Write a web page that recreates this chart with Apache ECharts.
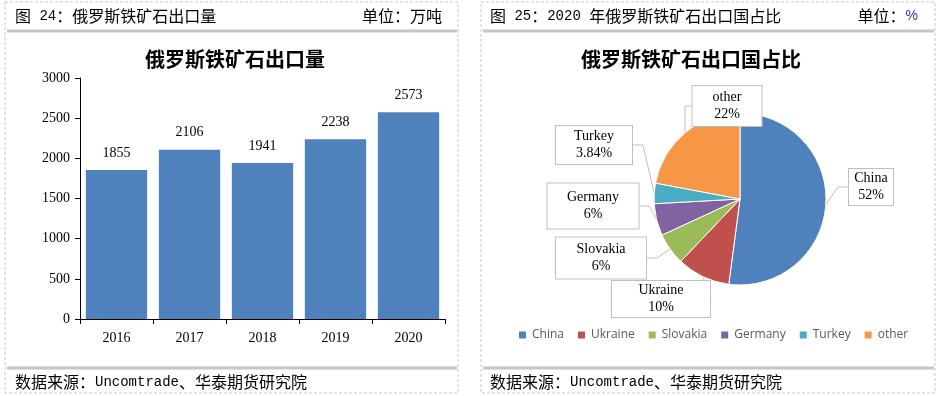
<!DOCTYPE html>
<html>
<head>
<meta charset="utf-8">
<script src="https://cdn.jsdelivr.net/npm/echarts@6/dist/echarts.min.js"></script>
<style>html,body{margin:0;padding:0;background:#fff}#c{width:938px;height:396px}</style>
</head>
<body>
<div id="c"></div>
<script>
// ---- data ----
const years = ['2016', '2017', '2018', '2019', '2020'];
const exportVolume = [1855, 2106, 1941, 2238, 2573];
const yTicks = [0, 500, 1000, 1500, 2000, 2500, 3000];
const countries = ['China', 'Ukraine', 'Slovakia', 'Germany', 'Turkey', 'other'];
const shares = [52, 10, 6, 6, 3.84, 22];

// ---- styles / layout (not data) ----
const pieColors = ['#4f81bd', '#c0504d', '#9bbb59', '#8064a2', '#4bacc6', '#f79646'];
const labelBoxes = [
  {x: 871, y: 187, w: 46, h: 38},
  {x: 661, y: 299, w: 100, h: 38},
  {x: 601, y: 258, w: 92, h: 43},
  {x: 593, y: 206, w: 93, h: 47},
  {x: 594, y: 145, w: 78, h: 40},
  {x: 727, y: 106, w: 71, h: 42}
];
const serif = "'Liberation Serif','Times New Roman',serif";
const cjk = "'Noto Sans CJK SC',sans-serif";
const mono = "'Liberation Mono','Noto Sans CJK SC',monospace";

function frame(x, y, w, h) {
  return {type: 'rect', shape: {x: x, y: y, width: w, height: h}, silent: true,
    style: {fill: 'none', stroke: '#c8c8c8', lineWidth: 1, lineDash: [3, 2]}};
}
function hline(x1, x2, y) {
  return {type: 'line', shape: {x1: x1, y1: y, x2: x2, y2: y}, silent: true,
    style: {stroke: '#c6c6c6', lineWidth: 3}};
}
function richText(x, y, parts, align) {
  return {type: 'text', x: x, y: y, silent: true,
    style: {text: parts, align: align || 'left', verticalAlign: 'middle',
      rich: {c: {fontFamily: cjk, fontSize: 16, fill: '#000'},
             m: {fontFamily: mono, fontSize: 14, fill: '#000'},
             p: {fontFamily: "'Liberation Sans',sans-serif", fontSize: 14, fill: '#1f3ea8'}}}};
}

const chart = echarts.init(document.getElementById('c'), null, {renderer: 'canvas'});
chart.setOption({
  animation: false,
  backgroundColor: '#fff',
  graphic: [
    frame(5, 2, 453, 391),
    frame(481, 2, 454, 391),
    hline(7, 457, 31),
    hline(483, 934, 31),
    hline(7, 457, 368),
    hline(483, 934, 368),
    richText(15, 16, '{c|图}{m| 24}{c|：俄罗斯铁矿石出口量}'),
    richText(442, 16, '{c|单位：万吨}', 'right'),
    richText(490, 16, '{c|图}{m| 25}{c|：}{m|2020 }{c|年俄罗斯铁矿石出口国占比}'),
    richText(918, 16, '{c|单位：}{p|%}', 'right'),
    richText(15, 382, '{c|数据来源：}{m|Uncomtrade}{c|、华泰期货研究院}'),
    richText(490, 382, '{c|数据来源：}{m|Uncomtrade}{c|、华泰期货研究院}')
  ],
  title: [
    {text: '俄罗斯铁矿石出口量', left: 230, top: 44, textAlign: 'center',
     textStyle: {fontFamily: cjk, fontSize: 20, fontWeight: 'bold', color: '#000'}},
    {text: '俄罗斯铁矿石出口国占比', left: 686, top: 44, textAlign: 'center',
     textStyle: {fontFamily: cjk, fontSize: 20, fontWeight: 'bold', color: '#000'}}
  ],
  legend: {
    data: countries, left: 512, top: 324, itemWidth: 9, itemHeight: 9, itemGap: 12,
    icon: 'rect', textStyle: {fontFamily: "'Open Sans','Noto Sans',sans-serif", fontSize: 12, color: '#595959'}
  },
  grid: {left: 80, top: 78, width: 365, height: 241, containLabel: false},
  xAxis: {
    type: 'category', data: years,
    axisLine: {lineStyle: {color: '#000'}},
    axisTick: {show: true, length: 5, lineStyle: {color: '#000'}},
    axisLabel: {fontFamily: serif, fontSize: 14, color: '#000', margin: 12}
  },
  yAxis: {
    type: 'value', min: yTicks[0], max: yTicks[yTicks.length - 1], interval: yTicks[1] - yTicks[0],
    axisLine: {show: true, lineStyle: {color: '#000'}},
    axisTick: {show: true, length: 5, lineStyle: {color: '#000'}},
    splitLine: {show: false},
    axisLabel: {fontFamily: serif, fontSize: 14, color: '#000', margin: 10, formatter: v => String(v)}
  },
  series: [
    {
      type: 'bar', data: exportVolume, barCategoryGap: '16%',
      itemStyle: {color: '#4f81bd'},
      label: {show: true, position: 'top', distance: 10, fontFamily: serif, fontSize: 14, color: '#000'}
    },
    {
      type: 'pie', center: [740, 199], radius: 86, startAngle: 90, clockwise: true,
      legendHoverLink: false,
      data: countries.map((n, i) => ({
        name: n, value: shares[i], itemStyle: {color: pieColors[i]},
        label: {width: labelBoxes[i].w - 2, height: labelBoxes[i].h - 2}
      })),
      itemStyle: {borderColor: '#fff', borderWidth: 1},
      label: {
        show: true, position: 'outside',
        formatter: p => p.name + '\n' + p.value + '%',
        fontFamily: serif, fontSize: 14, color: '#000', lineHeight: 17,
        align: 'center', verticalAlign: 'middle',
        backgroundColor: '#fff', borderColor: '#bfbfbf', borderWidth: 1
      },
      labelLine: {show: true, length: 10, length2: 10, lineStyle: {color: '#bfbfbf', width: 1}},
      labelLayout: function (params) {
        const b = labelBoxes[params.dataIndex];
        return {x: b.x, y: b.y, align: 'center', verticalAlign: 'middle'};
      }
    }
  ]
});
</script>
</body>
</html>
